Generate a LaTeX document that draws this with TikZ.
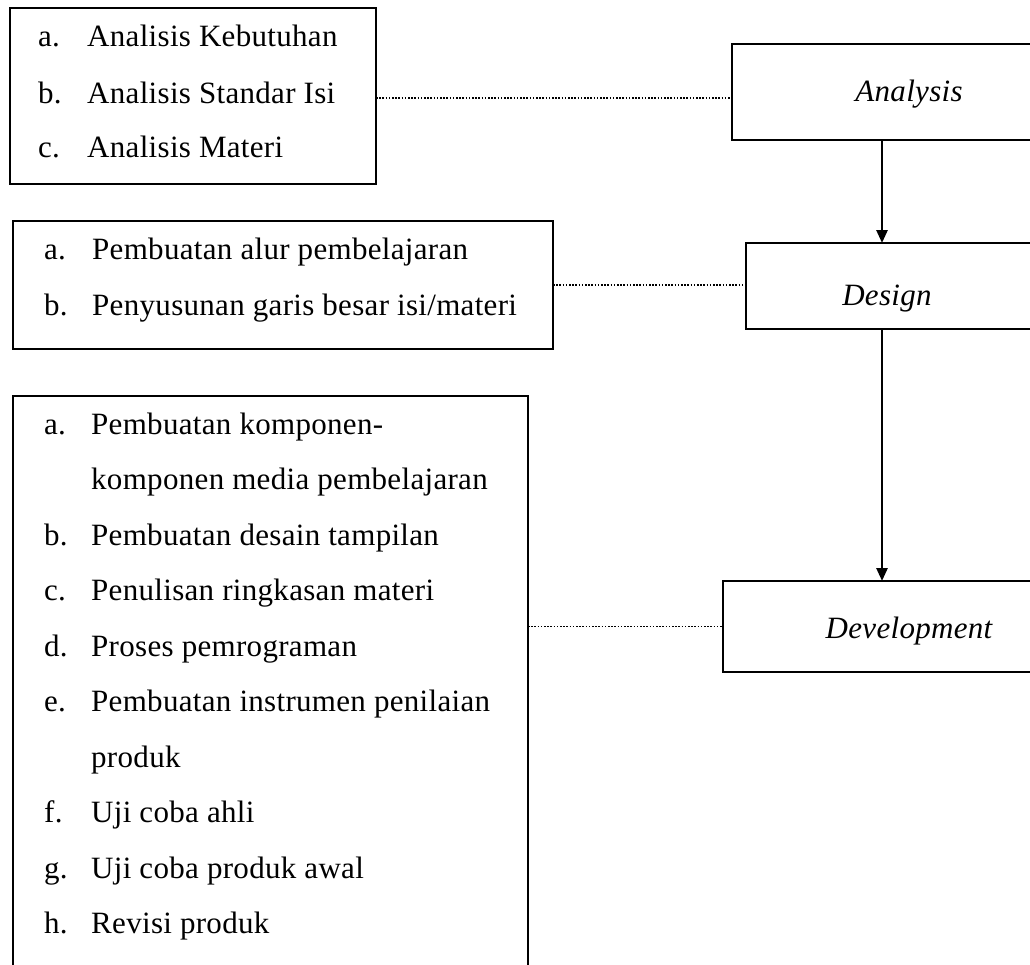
\documentclass[tikz,border=0pt]{standalone}
\usepackage{fontspec}
\setmainfont{Liberation Serif}[LetterSpace=1]
\usetikzlibrary{arrows.meta}
\begin{document}
\begin{tikzpicture}[x=1pt,y=-1pt,
  box/.style={draw, line width=2.6pt, inner sep=0pt, outer sep=0pt},
  item/.style={anchor=base west, inner sep=0pt, font=\fontsize{31}{31}\selectfont},
  stage/.style={anchor=base, inner sep=0pt, font=\fontsize{31}{31}\selectfont\itshape},
  dots/.style={line width=1.8pt, dash pattern=on 1.6pt off 1.6pt},
  flow/.style={line width=2.6pt, -{Triangle[length=13pt,width=11pt]}}]
\useasboundingbox (0,0) rectangle (1030,964);
% boxes
\node[box, minimum width=366pt, minimum height=176pt] (l1) at (193,96) {};
\node[box, minimum width=308pt, minimum height=96pt] (an) at (886,92) {};
\node[box, minimum width=540pt, minimum height=128pt] (l2) at (283,285) {};
\node[box, minimum width=294pt, minimum height=86pt] (de) at (893,286) {};
\node[box, minimum width=515pt, minimum height=604pt] (l3) at (270.5,698) {};
\node[box, minimum width=317pt, minimum height=91pt] (dv) at (881.5,626.5) {};
% stage labels
\node[stage] (tan) at (909,101) {Analysis};
\node[stage] (tde) at (887,305) {Design};
\node[stage] (tdv) at (909,638) {Development};
% list 1
\node[item] (a1) at (38,46) {a.};
\node[item] (a1t) at (87,46) {Analisis Kebutuhan};
\node[item] (b1) at (38,103) {b.};
\node[item] (b1t) at (87,103) {Analisis Standar Isi};
\node[item] (c1) at (38,157) {c.};
\node[item] (c1t) at (87,157) {Analisis Materi};
% list 2
\node[item] (a2) at (44,259) {a.};
\node[item] (a2t) at (92,259) {Pembuatan alur pembelajaran};
\node[item] (b2) at (44,315) {b.};
\node[item] (b2t) at (92,315) {Penyusunan garis besar isi/materi};
% list 3
\node[item] (a3) at (44,434) {a.};
\node[item] (a3t) at (91,434) {Pembuatan komponen-};
\node[item] (a3u) at (91,489.5) {komponen media pembelajaran};
\node[item] (b3) at (44,545) {b.};
\node[item] (b3t) at (91,545) {Pembuatan desain tampilan};
\node[item] (c3) at (44,600.5) {c.};
\node[item] (c3t) at (91,600.5) {Penulisan ringkasan materi};
\node[item] (d3) at (44,656) {d.};
\node[item] (d3t) at (91,656) {Proses pemrograman};
\node[item] (e3) at (44,711.5) {e.};
\node[item] (e3t) at (91,711.5) {Pembuatan instrumen penilaian};
\node[item] (e3u) at (91,767) {produk};
\node[item] (f3) at (44,822.5) {f.};
\node[item] (f3t) at (91,822.5) {Uji coba ahli};
\node[item] (g3) at (44,878) {g.};
\node[item] (g3t) at (91,878) {Uji coba produk awal};
\node[item] (h3) at (44,933.5) {h.};
\node[item] (h3t) at (91,933.5) {Revisi produk};
% connectors
\coordinate (ax) at (882,0);
\coordinate (y1) at (0,98);
\draw[dots] (l1.east |- y1) -- (an.west |- y1);
\draw[dots] (l2.east) -- (l2.east -| de.west);
\draw[dots] (dv.west -| l3.east) -- (dv.west);
\draw[flow] (an.south -| ax) -- (de.north -| ax);
\draw[flow] (de.south -| ax) -- (dv.north -| ax);
\end{tikzpicture}
\end{document}
